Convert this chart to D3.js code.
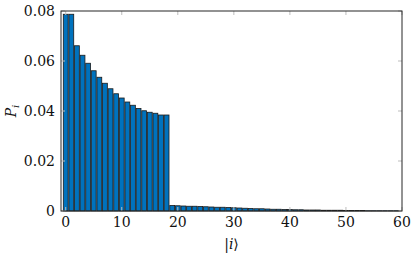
<!DOCTYPE html>
<html>
<head>
<meta charset="utf-8">
<script src="https://cdn.jsdelivr.net/npm/d3@7"></script>
<style>
  body { margin: 0; background: #fff; }
  svg { display: block; }
</style>
</head>
<body>
<svg id="chart"></svg>
<script>
// data
const head = [0.0787, 0.0787, 0.0661, 0.0623, 0.0591, 0.0561, 0.0535, 0.0511, 0.0489,
              0.0469, 0.0452, 0.0436, 0.0423, 0.0410, 0.0401, 0.0395, 0.0391, 0.0384, 0.0384]
const tail = [0.0022, 0.0021, 0.0020, 0.0019, 0.0019, 0.0018, 0.0017, 0.0016, 0.0015, 0.0015,
              0.0014, 0.0013, 0.0012, 0.0011, 0.0010, 0.0009, 0.0009, 0.0008, 0.0007, 0.0007,
              0.0006, 0.0006, 0.0005, 0.0005, 0.0004, 0.0004, 0.0004, 0.0003, 0.0003, 0.0003,
              0.0003, 0.0002, 0.0002, 0.0002, 0.0002, 0.0001, 0.0001, 0.0001, 0.0001, 0.0001, 0.0001]
const values = head.concat(tail)
const xTicks = [0, 10, 20, 30, 40, 50, 60]
const yTicks = [0, 0.02, 0.04, 0.06, 0.08]

const W = 415, H = 258
const margin = {left: 61, top: 11, right: 13, bottom: 47}
const pw = W - margin.left - margin.right
const ph = H - margin.top - margin.bottom
const serif = 'DejaVu Serif'

const svg = d3.select('#chart').attr('width', W).attr('height', H)
const g = svg.append('g').attr('transform', `translate(${margin.left},${margin.top})`)

const x = d3.scaleLinear().domain([-0.84, 60]).range([0, pw])
const y = d3.scaleLinear().domain([0, 0.08]).range([ph, 0])
const bw = x(0.86) - x(0)

// bars
g.append('g').selectAll('rect')
  .data(values)
  .enter()
  .append('rect')
  .attr('x', (d, i) => x(i) - bw / 2)
  .attr('y', d => y(d))
  .attr('width', bw)
  .attr('height', d => y(0) - y(d))
  .attr('fill', '#0072BD')
  .attr('stroke', '#1a1a1a')
  .attr('stroke-width', 0.8)

// inner ticks on all four sides (light gray)
const tk = g.append('g').attr('stroke', '#bdbdbd').attr('stroke-width', 1)
xTicks.forEach(t => {
  tk.append('line').attr('x1', x(t)).attr('x2', x(t)).attr('y1', ph).attr('y2', ph - 4)
  tk.append('line').attr('x1', x(t)).attr('x2', x(t)).attr('y1', 0).attr('y2', 4)
})
yTicks.forEach(t => {
  tk.append('line').attr('x1', 0).attr('x2', 4).attr('y1', y(t)).attr('y2', y(t))
  tk.append('line').attr('x1', pw).attr('x2', pw - 4).attr('y1', y(t)).attr('y2', y(t))
})

// frame
g.append('rect').attr('width', pw).attr('height', ph)
  .attr('fill', 'none').attr('stroke', '#262626').attr('stroke-width', 1)

// tick labels
g.append('g').selectAll('text').data(xTicks).enter().append('text')
  .attr('x', d => x(d)).attr('y', ph + 16)
  .attr('text-anchor', 'middle').attr('font-size', 14).attr('fill', '#111')
  .style('font-family', serif)
  .text(d => d)
g.append('g').selectAll('text').data(yTicks).enter().append('text')
  .attr('x', -6).attr('y', d => y(d) + 5)
  .attr('text-anchor', 'end').attr('font-size', 14).attr('fill', '#111')
  .style('font-family', serif)
  .text(d => d === 0 ? '0' : d.toFixed(2))

// axis labels
const xl = svg.append('text')
  .attr('x', margin.left + pw / 2).attr('y', 249)
  .attr('text-anchor', 'middle').attr('font-size', 14).attr('fill', '#111')
  .style('font-family', serif)
xl.append('tspan').text('|')
xl.append('tspan').attr('font-style', 'italic').text('i')
xl.append('tspan').text('⟩')

const yl = svg.append('text')
  .attr('transform', `translate(16,${margin.top + ph / 2}) rotate(-90)`)
  .attr('text-anchor', 'middle').attr('font-size', 14).attr('fill', '#111')
  .style('font-family', serif)
yl.append('tspan').attr('font-style', 'italic').text('P')
yl.append('tspan').attr('font-style', 'italic').attr('font-size', 10).attr('dy', 3).text('i')
</script>
</body>
</html>
